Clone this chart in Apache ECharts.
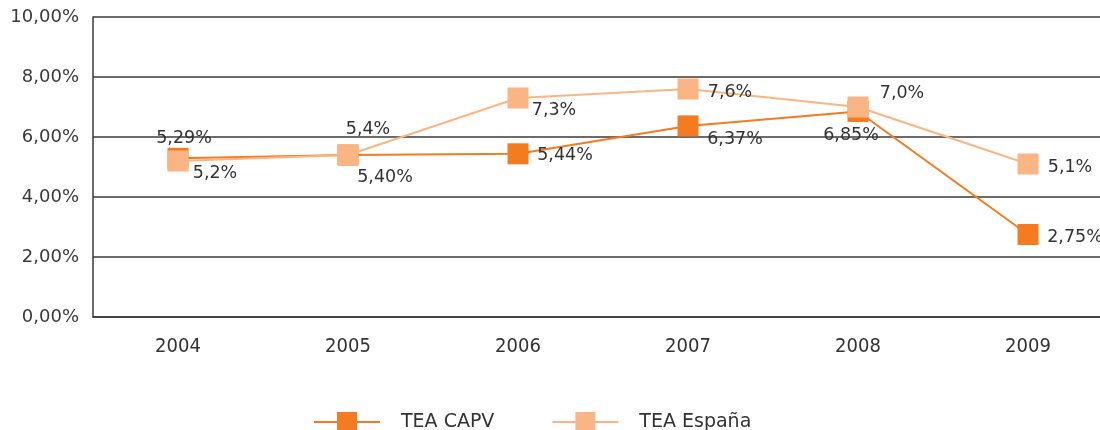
<!DOCTYPE html>
<html>
<head>
<meta charset="utf-8">
<script src="https://cdn.jsdelivr.net/npm/echarts@6/dist/echarts.min.js"></script>
<style>html,body{margin:0;padding:0;background:#fff;overflow:hidden;width:1100px;height:430px}#c{width:1120px;height:430px}</style>
</head>
<body>
<div id="c"></div>
<script>
const categories = ['2004', '2005', '2006', '2007', '2008', '2009'];
const capvValues = [5.29, 5.40, 5.44, 6.37, 6.85, 2.75];
const espanaValues = [5.2, 5.4, 7.3, 7.6, 7.0, 5.1];
const seriesNames = ['TEA CAPV', 'TEA España'];
const yTicks = [0, 2, 4, 6, 8, 10];

// label placement (offset of label centre from marker centre, px)
const capvLabelOffsets = [[6, -20], [37, 22], [47, 2], [47, 14], [-7, 24], [47, 3]];
const espanaLabelOffsets = [[37, 12], [20, -26], [36, 12], [42, 3], [44, -14], [42, 3]];

function fmt(v, d) { return v.toFixed(d).replace('.', ',') + '%'; }

function buildData(values, offsets, decimals) {
  return values.map((v, i) => ({
    value: v,
    label: {
      show: true,
      position: 'inside',
      align: 'center',
      verticalAlign: 'middle',
      offset: offsets[i],
      formatter: () => fmt(v, decimals)
    }
  }));
}

const chart = echarts.init(document.getElementById('c'), null, { renderer: 'canvas' });
chart.setOption({
  animation: false,
  backgroundColor: '#fff',
  grid: { left: 93, width: 1020, top: 17, bottom: 113, containLabel: false },
  xAxis: {
    type: 'category',
    data: categories,
    boundaryGap: true,
    axisLine: { show: true, lineStyle: { color: '#3a3a3a', width: 1.5 } },
    axisTick: { show: false },
    axisLabel: { margin: 20, color: '#333', fontFamily: 'DejaVu Sans Condensed, DejaVu Sans', fontSize: 20 }
  },
  yAxis: {
    type: 'value',
    min: yTicks[0],
    max: yTicks[yTicks.length - 1],
    interval: 2,
    axisLine: { show: true, lineStyle: { color: '#3a3a3a', width: 1.5 } },
    axisTick: { show: false },
    splitLine: { show: true, lineStyle: { color: '#3a3a3a', width: 1.5 } },
    axisLabel: { margin: 14, color: '#3a3a3a', fontFamily: 'DejaVu Sans', fontSize: 18, formatter: v => fmt(v, 2) }
  },
  legend: {
    bottom: -7,
    left: 308,
    itemWidth: 66,
    itemHeight: 25,
    itemGap: 57,
    data: seriesNames,
    textStyle: { color: '#333', fontFamily: 'DejaVu Sans', fontSize: 19, padding: [0, 0, 0, 16] }
  },
  series: [
    {
      name: seriesNames[0],
      type: 'line',
      data: buildData(capvValues, capvLabelOffsets, 2),
      symbol: 'rect',
      symbolSize: 21,
      itemStyle: { color: '#F47B20' },
      lineStyle: { color: '#F47B20', width: 2 },
      label: { color: '#333', fontFamily: 'DejaVu Sans', fontSize: 17.5 },
      z: 2
    },
    {
      name: seriesNames[1],
      type: 'line',
      data: buildData(espanaValues, espanaLabelOffsets, 1),
      symbol: 'rect',
      symbolSize: 21,
      itemStyle: { color: '#FBB584' },
      lineStyle: { color: '#FBB584', width: 2 },
      label: { color: '#333', fontFamily: 'DejaVu Sans', fontSize: 17.5 },
      z: 3
    }
  ]
});
</script>
</body>
</html>
